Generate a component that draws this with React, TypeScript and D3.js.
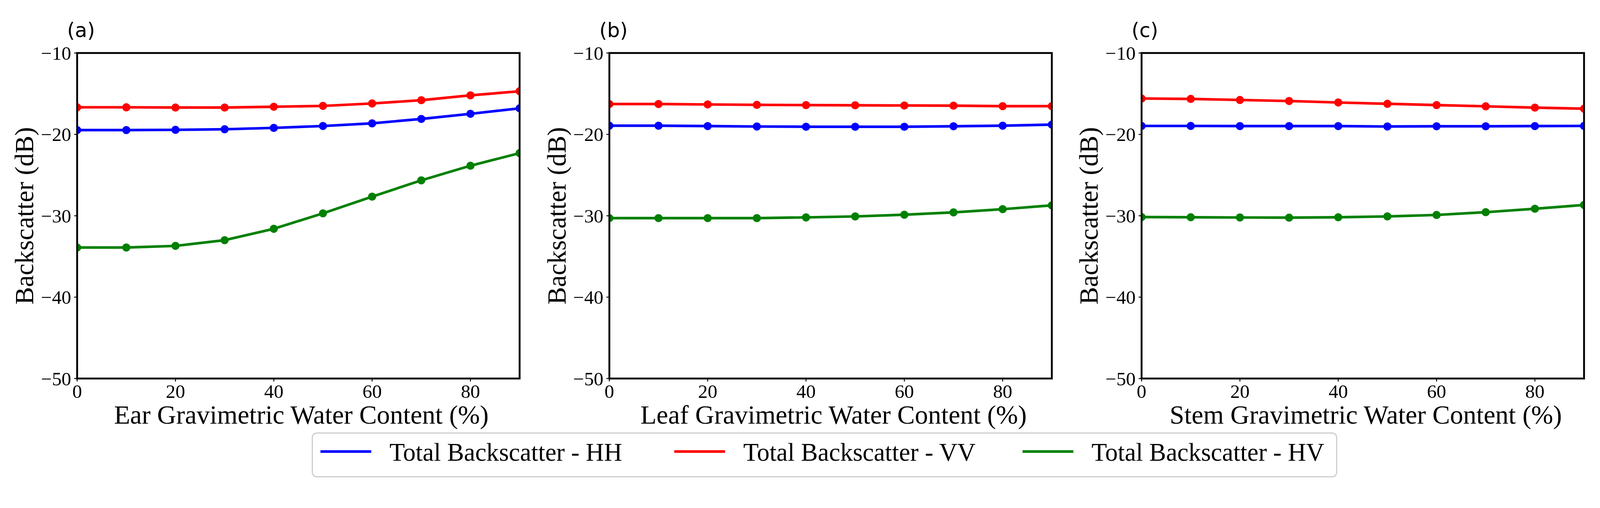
import React from "react";
import * as d3 from "d3";

// water content steps (%) shared by every panel
const waterContent = [0, 10, 20, 30, 40, 50, 60, 70, 80, 90];

// panel (a) ear
const earHH = [-19.47, -19.47, -19.44, -19.37, -19.2, -18.97, -18.64, -18.1, -17.47, -16.8];
const earVV = [-16.67, -16.67, -16.7, -16.7, -16.6, -16.5, -16.2, -15.8, -15.2, -14.7];
const earHV = [-33.9, -33.9, -33.7, -33.0, -31.6, -29.7, -27.65, -25.65, -23.85, -22.3];

// panel (b) leaf
const leafHH = [-18.93, -18.93, -18.98, -19.03, -19.06, -19.06, -19.06, -19.0, -18.93, -18.8];
const leafVV = [-16.27, -16.27, -16.32, -16.37, -16.4, -16.42, -16.45, -16.47, -16.53, -16.53];
const leafHV = [-30.29, -30.29, -30.29, -30.29, -30.2, -30.08, -29.87, -29.58, -29.19, -28.72];

// panel (c) stem
const stemHH = [-18.96, -18.96, -18.98, -18.98, -18.98, -19.03, -19.0, -19.0, -18.98, -18.96];
const stemVV = [-15.59, -15.64, -15.77, -15.9, -16.08, -16.24, -16.4, -16.55, -16.71, -16.84];
const stemHV = [-30.16, -30.18, -30.21, -30.23, -30.18, -30.08, -29.9, -29.56, -29.14, -28.67];

const panelTags = ["(a)", "(b)", "(c)"];
const xLabels = [
  "Ear Gravimetric Water Content (%)",
  "Leaf Gravimetric Water Content (%)",
  "Stem Gravimetric Water Content (%)",
];
const seriesNames = ["Total Backscatter - HH", "Total Backscatter - VV", "Total Backscatter - HV"];
const seriesColors = ["#0000ff", "#ff0000", "#008000"];
const xTicks = [0, 20, 40, 60, 80];
const yTicks = [-50, -40, -30, -20, -10];

const panels = [
  [earHH, earVV, earHV],
  [leafHH, leafVV, leafHV],
  [stemHH, stemVV, stemHV],
];

const W = 4314;
const H = 1301;
const axLeft = 208;
const axTop = 143;
const axW = 1193;
const axH = 878;
const panelStep = 1435;

const serif = "'Liberation Serif', 'Times New Roman', serif";
const sans = "'DejaVu Sans', sans-serif";

const fmt = (v: number) => (v < 0 ? "\u2212" + Math.abs(v) : String(v));

const Panel = ({ idx }: { idx: number }) => {
  const ox = axLeft + idx * panelStep;
  const x = d3.scaleLinear().domain([0, 90]).range([0, axW]);
  const y = d3.scaleLinear().domain([-50, -10]).range([axH, 0]);
  const line = d3
    .line<number>()
    .x((_, i) => x(waterContent[i]))
    .y((d) => y(d));
  const clipId = `clip-${idx}`;
  return (
    <g transform={`translate(${ox},${axTop})`}>
      <defs>
        <clipPath id={clipId}>
          <rect x={0} y={0} width={axW} height={axH} />
        </clipPath>
      </defs>
      <g clipPath={`url(#${clipId})`}>
        {panels[idx].map((vals, s) => (
          <g key={s}>
            <path d={line(vals) || ""} fill="none" stroke={seriesColors[s]} strokeWidth={7} strokeLinejoin="round" />
            {vals.map((v, i) => (
              <circle key={i} cx={x(waterContent[i])} cy={y(v)} r={11} fill={seriesColors[s]} />
            ))}
          </g>
        ))}
      </g>
      <rect x={0} y={0} width={axW} height={axH} fill="none" stroke="#000" strokeWidth={5} />
      {yTicks.map((t) => (
        <g key={t} transform={`translate(0,${y(t)})`}>
          <line x1={-8} x2={0} stroke="#000" strokeWidth={2.5} />
          <text x={-16} dy="0.35em" textAnchor="end" fontFamily={serif} fontSize={52}>
            {fmt(t)}
          </text>
        </g>
      ))}
      {xTicks.map((t) => (
        <g key={t} transform={`translate(${x(t)},${axH})`}>
          <line y1={0} y2={8} stroke="#000" strokeWidth={2.5} />
          <text y={52} textAnchor="middle" fontFamily={serif} fontSize={52}>
            {fmt(t)}
          </text>
        </g>
      ))}
      <text x={axW / 2 + 8} y={axH + 122} textAnchor="middle" fontFamily={serif} fontSize={71}>
        {xLabels[idx]}
      </text>
      <text
        transform={`translate(-118,${axH / 2}) rotate(-90)`}
        textAnchor="middle"
        fontFamily={serif}
        fontSize={71}
      >
        Backscatter (dB)
      </text>
      <text x={-27} y={-43} fontFamily={sans} fontSize={54}>
        {panelTags[idx]}
      </text>
    </g>
  );
};

const Legend = () => {
  const itemX = [864, 1818, 2757];
  return (
    <g>
      <rect x={842} y={1168} width={2762} height={118} rx={12} fill="#fff" stroke="#cccccc" strokeWidth={3} />
      {seriesNames.map((name, i) => (
        <g key={name} transform={`translate(${itemX[i]},1218)`}>
          <line x1={0} x2={137} stroke={seriesColors[i]} strokeWidth={7} />
          <text x={186} y={25} fontFamily={serif} fontSize={68}>
            {name}
          </text>
        </g>
      ))}
    </g>
  );
};

export default function App() {
  // the svg follows the viewport width so the whole figure always fits
  return (
    <svg
      viewBox={`0 0 ${W} ${H}`}
      preserveAspectRatio="xMinYMin meet"
      style={{
        position: "absolute",
        left: 0,
        top: 0,
        width: "100vw",
        height: `calc(100vw * ${H} / ${W})`,
        display: "block",
        background: "#fff",
      }}
    >
      <rect width={W} height={H} fill="#fff" />
      {[0, 1, 2].map((i) => (
        <Panel key={i} idx={i} />
      ))}
      <Legend />
    </svg>
  );
}
